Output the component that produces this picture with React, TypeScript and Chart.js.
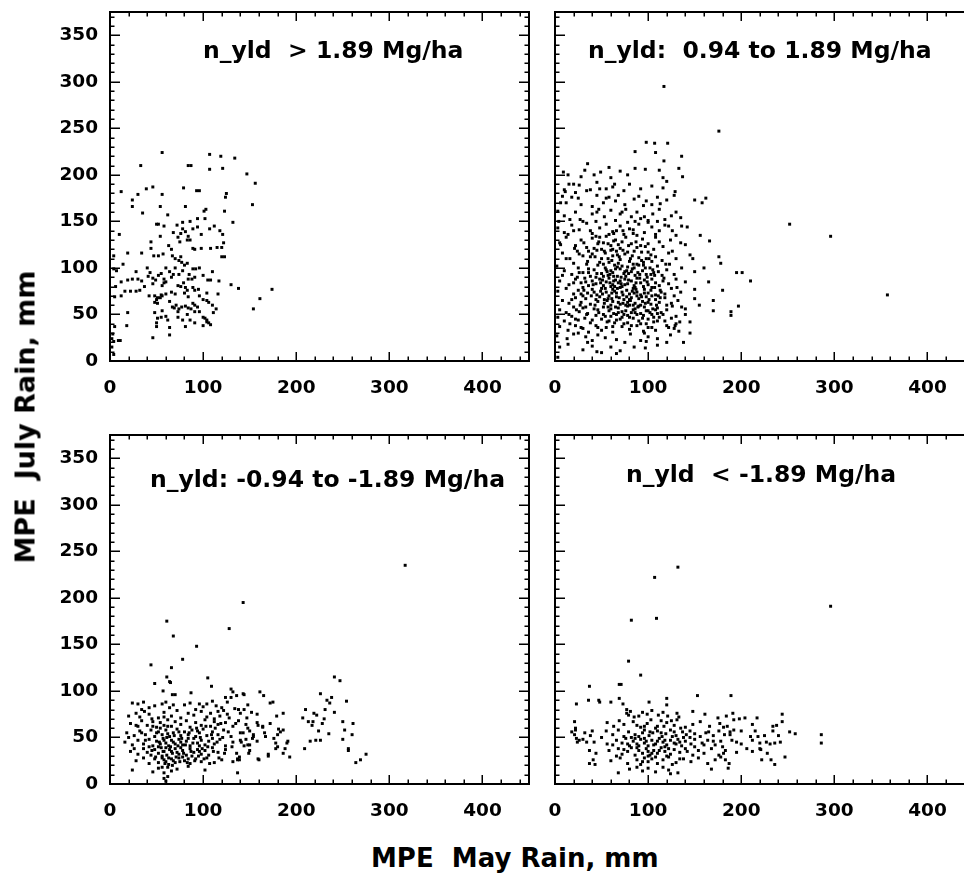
import React, { useEffect, useRef } from 'react';
import { Chart, registerables } from 'chart.js';

Chart.register(...registerables);

const X_TICKS = [0, 100, 200, 300, 400];
const Y_TICKS = [0, 50, 100, 150, 200, 250, 300, 350];
const X_MAX = 450;
const Y_MAX = 375;

const TITLE_TL = 'n_yld  > 1.89 Mg/ha';
const TITLE_TR = 'n_yld:  0.94 to 1.89 Mg/ha';
const TITLE_BL = 'n_yld: -0.94 to -1.89 Mg/ha';
const TITLE_BR = 'n_yld  < -1.89 Mg/ha';
const X_TITLE = 'MPE  May Rain, mm';
const Y_TITLE = 'MPE  July Rain, mm';

// [May rain, July rain]
const TL: number[][] = [
  [56,224],[33,210],[84,210],[87,210],[107,222],[107,206],[119,220],[121,207],[134,218],[147,201],[156,191],[153,168],
  [12,182],[24,173],[30,179],[39,185],[46,187],[56,179],[79,186],[93,183],[96,183],[125,180],[124,176],
  [24,166],[35,159],[54,166],[81,166],[62,157],[103,163],[101,161],[123,161],[132,149],
  [10,136],[50,147],[52,147],[78,149],[94,153],[102,153],[89,142],[94,144],[98,136],[107,142],[118,140],[121,136],
  [78,142],[76,137],[81,139],[84,134],[86,130],[54,134],[44,128],[44,121],[52,113],[47,113],[57,115],
  [63,124],[66,120],[73,133],[75,128],[83,130],[89,121],[91,120],[98,121],[108,121],[115,122],[120,122],[122,127],[120,112],[123,112],
  [67,113],[70,110],[74,108],[76,112],[77,106],[83,105],[80,103],[89,99],[92,99],
  [4,113],[4,99],[7,97],[19,116],[34,116],
  [30,88],[34,86],[41,91],[43,95],[46,89],[52,92],[55,94],[58,88],
  [12,85],[19,87],[24,88],[6,80],[5,69],[12,70],[16,75],[22,75],[28,75],[32,76],
  [37,80],[42,70],[48,70],[51,68],[56,70],[46,83],[49,87],[58,84],[60,85],[66,90],[68,93],[74,93],[56,81],
  [48,63],[51,62],[50,66],[54,68],[55,71],[66,74],[70,72],[73,81],[76,80],[79,84],[81,79],[84,88],[88,88],[91,90],
  [80,73],[83,76],[84,69],[89,79],[91,76],[95,77],
  [67,58],[69,57],[71,60],[74,56],[77,58],[81,59],[84,57],[89,62],[87,56],[91,60],[94,58],
  [105,87],[108,87],[117,86],[104,73],[116,72],[130,82],[138,78],[174,77],[161,67],[154,56],
  [19,52],[18,38],[48,52],[56,54],[51,46],[55,47],[50,41],[50,37],[64,36],[73,53],[73,47],[83,50],[91,53],[86,44],[91,41],[81,37],
  [96,53],[100,47],[102,46],[104,44],[104,42],[106,41],[108,39],[100,38],[111,52],[104,65],[106,63],
  [46,25],[64,28],[2,24],[4,21],[9,22],[11,22],[2,15],[4,7],[3,29],[5,37],
  [60,100],[64,96],[70,100],[78,97],[85,93],[96,100],[100,92],[110,96],[58,145],[68,138],[72,146],[86,150],[112,145],
  [40,100],[28,96],[14,104],[64,64],[60,72],[96,70],[100,66],[110,60],[114,56],[78,44],[60,48],[62,44]
];

const TR: number[][] = [
  [117,295],[176,247],[252,147],[296,134],[357,71],
  [98,235],[107,234],[121,234],[86,225],[108,224],[136,220],[117,215],[35,212],
  [9,203],[14,200],[32,205],[42,200],[49,203],[58,208],[70,204],[78,200],[86,207],[97,206],[112,205],[116,197],[133,207],[137,198],[28,198],[60,197],
  [10,184],[15,190],[26,189],[45,192],[55,185],[62,187],[74,183],[80,190],[92,185],[104,188],[116,186],[120,193],[129,182],[11,182],[22,181],[34,183],[38,184],
  [8,177],[12,170],[18,176],[25,175],[28,168],[45,178],[52,170],[58,176],[65,172],[68,178],[75,168],[85,174],[90,177],[98,172],[110,176],[113,169],[120,173],[128,178],[150,173],[158,170],[162,175],[40,166],[95,167],
  [3,161],[10,156],[22,160],[27,152],[40,158],[47,163],[53,155],[60,162],[65,151],[70,158],[76,163],[82,155],[88,160],[92,153],[105,158],[112,163],[118,152],[125,156],[130,160],[135,154],[16,152],[100,151],
  [3,143],[10,138],[18,146],[26,141],[34,148],[40,137],[48,143],[55,147],[62,139],[70,145],[74,136],[78,149],[84,141],[90,147],[96,138],[104,144],[108,136],[118,146],[126,140],[136,145],[142,144],[14,136],[58,136],[100,149],
  [5,127],[12,133],[22,124],[28,130],[34,122],[40,132],[46,126],[50,120],[55,134],[60,124],[65,130],[70,121],[76,133],[82,126],[88,122],[94,131],[100,126],[108,133],[116,123],[124,130],[135,127],[156,135],[166,129],[44,134],[62,120],[72,128],
  [8,116],[16,110],[24,118],[30,113],[35,107],[40,115],[45,119],[50,110],[54,116],[58,106],[62,113],[66,118],[70,109],[75,115],[80,107],[85,118],[90,111],[95,106],[100,117],[108,112],[115,108],[122,116],[130,110],[145,114],[176,112],[178,105],[38,112],[48,106],[68,105],[88,104],[104,107],[60,119],
  [2,102],[10,97],[18,93],[25,100],[30,95],[34,104],[38,91],[42,98],[46,103],[50,94],[54,100],[57,92],[60,97],[64,103],[67,91],[70,99],[74,94],[78,101],[82,96],[86,92],[90,103],[94,97],[98,93],[102,100],[106,95],[110,102],[115,92],[120,98],[128,93],[136,100],[150,96],[195,95],[201,95],[62,95],[76,91],[84,104],[52,91],
  [5,86],[15,82],[22,88],[28,84],[32,89],[36,81],[40,86],[44,83],[48,88],[52,81],[55,85],[58,89],[62,82],[65,87],[68,84],[72,80],[75,88],[78,83],[82,86],[85,81],[88,89],[92,84],[96,87],[100,82],[104,88],[108,84],[112,81],[116,86],[122,83],[130,88],[140,85],[210,86],[180,76],[70,86],[60,80],
  [3,75],[12,78],[20,72],[25,76],[30,79],[35,73],[40,77],[45,71],[50,78],[55,74],[58,70],[62,77],[66,73],[70,79],[73,71],[77,76],[80,72],[84,78],[88,74],[92,71],[96,77],[100,73],[104,79],[108,71],[113,76],[118,72],[125,78],[135,74],[150,77],[64,75],[86,79],
  [8,65],[15,62],[22,68],[28,63],[33,67],[38,61],[44,66],[48,69],[53,62],[57,67],[62,64],[66,69],[70,61],[74,66],[78,63],[82,68],[86,62],[90,67],[94,64],[98,69],[103,61],[108,66],[112,63],[118,68],[125,62],[132,65],[150,67],[170,65],[60,60],[80,60],
  [5,55],[12,52],[20,58],[26,53],[30,57],[35,51],[42,56],[47,52],[52,58],[58,54],[63,51],[68,57],[72,53],[78,59],[82,52],[86,56],[92,51],[96,58],[100,54],[104,50],[110,57],[114,52],[120,55],[126,59],[140,56],[170,54],[197,59],[189,53],[74,50],[90,59],
  [3,47],[10,43],[18,48],[25,44],[32,46],[38,41],[44,49],[50,45],[56,42],[60,48],[66,44],[72,47],[78,41],[84,46],[90,43],[95,49],[100,45],[106,42],[112,47],[118,43],[125,46],[134,42],[189,49],[145,42],[130,48],[64,41],
  [5,37],[14,33],[22,38],[30,35],[36,31],[44,38],[50,33],[55,36],[62,31],[72,37],[80,34],[88,38],[95,32],[100,36],[108,33],[120,38],[128,35],[133,32],[129,38],[96,30],
  [2,27],[13,24],[20,29],[33,26],[40,22],[46,28],[54,25],[66,23],[81,29],[92,22],[100,26],[110,24],[124,28],[98,21],
  [5,15],[14,18],[30,12],[40,16],[50,9],[66,8],[70,11],[97,14],[110,17],[3,4],
  [42,121],[47,128],[53,118],[57,126],[63,129],[67,114],[73,119],[79,124],[83,113],[87,128],[93,117],[97,123],[103,114],
  [52,104],[56,96],[61,108],[65,99],[69,112],[72,102],[77,97],[81,110],[85,100],[89,95],[93,108],[97,100],[101,110],[105,98],
  [44,90],[49,84],[54,78],[59,93],[63,86],[67,78],[71,90],[75,82],[79,94],[83,75],[87,84],[91,93],[95,80],[99,90],[103,76],[107,92],[111,70],
  [42,74],[46,64],[51,72],[56,65],[61,73],[65,58],[69,68],[73,62],[77,69],[81,65],[85,73],[89,58],[93,69],[97,62],[101,66],[105,56],[109,60],[113,68],
  [46,55],[54,48],[60,56],[66,50],[70,45],[76,54],[80,47],[84,60],[88,50],[94,46],[98,40],[102,52],[106,47],[110,51],
  [36,95],[33,85],[30,70],[27,60],[24,90],[20,105],[38,140],[44,150],[66,140],[86,150],[112,140],
  [21,121],[26,115],[31,127],[36,118],[43,112],[48,133],[52,127],[57,110],[63,137],[68,125],[73,140],[78,117],[84,137],[92,124],[98,110],[106,120],[112,128],[119,104],[126,118],
  [20,84],[26,95],[31,76],[36,99],[41,82],[45,94],[51,87],[55,98],[59,84],[63,91],[67,101],[71,83],[75,96],[79,87],[83,99],[87,77],[91,89],[95,103],[99,85],[103,93],[107,79],[111,96],[117,89],[123,104],[131,79],
  [18,66],[23,55],[28,72],[33,58],[39,70],[43,60],[49,75],[53,66],[57,58],[61,67],[64,80],[68,63],[72,74],[76,60],[80,66],[84,55],[88,70],[92,60],[96,73],[100,63],[104,70],[108,55],[114,74],[120,60],[128,70],[136,58],
  [16,40],[22,45],[28,36],[34,50],[40,44],[46,36],[52,50],[58,43],[62,37],[68,52],[74,40],[78,49],[82,38],[86,52],[92,40],[98,54],[104,36],[110,43],[116,50],[122,36],[130,40],[140,50],
  [20,140],[30,150],[45,160],[55,175],[64,190],[72,160],[80,142],[88,135],[96,155],[104,168],[110,150],[122,145],[130,135],[140,125],[148,110],[160,100],[165,85],[155,60],[145,30],[138,20],[120,20],[85,15],[75,20],[60,15],[45,10],[35,20],[25,30],[15,50],[8,92],[12,110],[6,125],[4,150],[6,170],[20,190],[48,185]
];

const BL: number[][] = [
  [317,235],[143,195],[61,175],[68,159],[128,167],[93,148],[78,134],[44,128],[66,125],[61,115],[65,109],[48,108],[105,114],[109,105],[241,115],[247,111],[57,100],[67,96],[87,98],[64,110],[70,96],[144,96],[130,93],[124,93],
  [207,71],[210,80],[213,67],[217,63],[219,76],[224,57],[226,47],[231,80],[230,70],[233,90],[236,87],[226,97],[238,93],[235,54],[241,77],[250,67],[252,58],[254,89],[250,48],[256,38],[256,36],[260,53],[261,65],[264,23],[269,26],[275,32],[209,38],[215,46],[221,47],[218,67],[222,74],[228,65],
  [147,71],[152,77],[158,75],[159,63],[164,62],[167,51],[172,87],[161,99],[165,95],[179,73],[186,76],[181,59],[183,56],[178,44],[180,40],[188,38],[191,46],[193,29],[170,32],[159,27],[149,33],[137,12],[137,26],[139,26],[150,42],[153,49],[154,53],[141,45],[144,41],[146,48],[148,60],[143,97],[132,99],[136,95],[130,102],
  [24,87],[30,86],[36,88],[48,84],[56,86],[60,88],[64,82],[80,85],[86,87],[96,86],[110,89],[114,84],[126,88],[134,81],[138,80],[148,85],[175,88],[34,80],[42,82],[100,83],[120,82],
  [20,73],[28,76],[32,72],[37,78],[42,75],[52,71],[58,77],[66,73],[72,79],[76,71],[90,74],[98,78],[104,72],[108,76],[118,73],[122,79],[128,71],[140,76],[45,70],[84,76],[112,70],
  [22,65],[30,62],[34,68],[40,63],[46,67],[50,61],[54,66],[58,63],[62,69],[66,62],[70,67],[76,64],[82,68],[86,61],[92,66],[98,63],[102,69],[108,62],[112,67],[116,64],[124,66],[132,62],[138,68],[146,64],[158,66],[164,61],[172,65],
  [18,55],[26,52],[32,57],[38,53],[44,58],[48,51],[52,56],[56,53],[60,58],[64,51],[68,55],[72,59],[76,52],[80,56],[84,53],[88,58],[92,51],[96,55],[100,59],[104,52],[110,56],[116,53],[122,58],[130,51],[140,55],[150,57],[154,51],[166,55],[180,53],[186,58],[62,54],[74,56],[94,57],
  [16,45],[24,42],[30,47],[36,43],[42,48],[46,41],[50,46],[54,43],[57,49],[60,44],[63,41],[66,47],[70,43],[74,48],[78,42],[82,46],[86,41],[90,49],[94,44],[98,47],[102,42],[106,46],[112,43],[118,48],[124,41],[132,45],[140,47],[148,42],[158,46],[176,49],[190,44],[52,40],[68,45],[84,49],[96,41],[110,49],[58,47],[76,45],
  [22,35],[30,32],[36,38],[40,34],[44,31],[48,37],[52,33],[55,39],[58,35],[61,31],[64,37],[67,33],[70,38],[74,32],[78,36],[82,31],[86,38],[90,34],[94,37],[98,32],[102,36],[106,31],[110,39],[116,34],[124,37],[136,33],[150,36],[178,38],[186,33],[56,30],[66,35],[76,39],[88,30],[60,39],[72,34],[96,35],
  [28,25],[36,28],[42,22],[48,27],[52,23],[56,28],[60,24],[63,21],[66,27],[70,23],[74,28],[80,25],[86,22],[92,27],[98,24],[104,28],[112,23],[120,26],[132,24],[137,27],[160,26],[170,30],[58,26],[68,25],[78,29],[84,27],
  [24,15],[46,13],[52,17],[58,12],[62,18],[66,14],[72,16],[84,19],[102,15],[56,18],
  [58,6],[60,3],[62,8],
  [45,36],[49,29],[53,45],[57,35],[59,22],[61,50],[63,28],[65,40],[67,20],[69,52],[71,29],[73,41],[75,24],[77,49],[79,33],[81,42],[83,23],[85,55],[87,35],[89,44],[91,25],[93,60],[95,30],[97,50],[99,38],[101,27],[103,62],[105,40],[107,22],[109,53],[111,35],[113,60],[115,45],[117,28],[119,65],[121,50],[123,33],[127,56],[131,40],[135,65],[139,29],[143,55],
  [62,62],[58,72],[54,60],[50,55],[46,62],[42,40],[38,47],[34,55],[26,38],[28,63],[20,50],[68,85],[92,80],[104,86],[116,78],[126,75],[144,80]
];

const BR: number[][] = [
  [132,233],[107,222],[109,178],[82,176],[296,191],[79,132],[92,117],[69,107],[71,107],[37,105],[153,95],[189,95],[120,92],[101,88],[23,86],[36,90],[47,90],[48,88],[60,88],[69,92],[120,85],[73,86],[77,80],[79,74],
  [286,53],[286,44],[244,75],[238,63],[234,57],[252,56],[258,54],[247,29],[236,21],[227,45],[231,43],[236,44],[242,45],[218,51],[221,37],[228,33],[222,26],[232,26],[217,71],[212,64],[204,71],[198,70],[191,76],[192,69],[188,53],[190,47],[195,45],[195,34],[186,17],[187,22],[183,26],[181,33],[183,36],
  [21,67],[22,60],[21,53],[23,49],[24,45],[26,47],[34,45],[37,36],[37,22],[41,26],[43,21],
  [77,76],[81,78],[90,73],[94,77],[104,79],[111,74],[116,77],[131,76],[133,72],[148,78],[161,75],[175,71],[184,73],[85,72],[99,75],[121,73],
  [56,66],[63,62],[69,68],[74,64],[84,67],[92,61],[99,65],[103,69],[110,62],[120,66],[128,63],[131,69],[148,64],[156,67],[166,62],[177,65],[181,61],[234,62],[244,67],[88,63],[114,68],[140,61],
  [18,56],[22,58],[32,55],[38,52],[55,57],[62,53],[68,58],[74,51],[79,56],[86,53],[96,58],[101,52],[105,55],[110,57],[115,51],[119,54],[124,58],[130,52],[137,56],[141,53],[145,57],[156,51],[162,55],[170,52],[176,57],[182,53],[188,56],[192,58],[210,51],[225,52],[90,51],[128,56],[150,54],
  [42,45],[62,42],[66,47],[72,44],[76,49],[80,41],[84,46],[88,43],[92,48],[96,44],[100,41],[104,47],[108,43],[112,49],[116,45],[120,42],[124,47],[128,44],[132,48],[136,41],[140,46],[146,43],[150,48],[158,44],[164,47],[172,42],[178,46],[200,43],[212,47],[96,49],[110,46],[118,40],[134,45],
  [44,33],[58,36],[68,38],[72,32],[78,35],[82,39],[86,31],[90,36],[94,33],[98,38],[102,31],[106,36],[110,33],[114,39],[118,35],[124,32],[128,37],[134,34],[140,38],[148,31],[154,36],[160,33],[168,38],[176,31],[212,35],[220,38],[88,39],[100,35],[120,30],
  [60,25],[70,28],[78,22],[88,26],[92,21],[96,28],[100,24],[104,27],[110,22],[116,26],[122,29],[130,23],[138,27],[146,24],[154,28],[164,22],[172,26],[178,29],[94,24],[108,29],[126,21],
  [68,12],[80,16],[88,18],[94,14],[100,17],[108,13],[116,18],[122,15],[132,12],[168,16],[124,11],
  [98,46],[102,56],[106,42],[112,36],[114,55],[118,47],[122,38],[126,51],[130,43],[134,27],[138,50],[142,35],[86,49],[90,41],[94,55],[82,50],[78,43],[74,37],[104,33],[108,60],[96,62],[100,30],
  [117,62],[125,68],[135,60],[145,50],[150,40],[160,42],[165,56],[170,46],[180,40],[185,62],[200,57],[206,38],[215,57],[220,44],[240,52],[66,30],[56,43],[50,50],[40,57],[30,48]
];

const FONT = "'DejaVu Sans', sans-serif";

type PanelProps = {
  pts: number[][];
  title: string;
  left: number;
  top: number;
  width: number;
  height: number;
  yWidth: number;
  padTop: number;
  padRight: number;
  xHeight: number;
  showY: boolean;
  tdx: number;
  tdy: number;
};

function Panel(p: PanelProps) {
  const ref = useRef<HTMLCanvasElement>(null);
  useEffect(() => {
    if (!ref.current) return;
    const frame = {
      id: 'frame',
      afterDatasetsDraw(chart: any) {
        const { ctx, chartArea: a, scales } = chart;
        const xs = scales.x;
        const ys = scales.y;
        ctx.save();
        ctx.strokeStyle = '#000';
        ctx.lineWidth = 1.5;
        ctx.beginPath();
        for (let v = 0; v < X_MAX; v += 20) {
          const px = Math.round(xs.getPixelForValue(v)) + 0.25;
          const len = X_TICKS.includes(v) ? 9 : 4.5;
          ctx.moveTo(px, a.bottom);
          ctx.lineTo(px, a.bottom - len);
          ctx.moveTo(px, a.top);
          ctx.lineTo(px, a.top + len);
        }
        for (let v = 0; v < Y_MAX; v += 10) {
          const py = Math.round(ys.getPixelForValue(v)) + 0.25;
          const len = Y_TICKS.includes(v) ? 10 : 4.5;
          ctx.moveTo(a.left, py);
          ctx.lineTo(a.left + len, py);
          ctx.moveTo(a.right, py);
          ctx.lineTo(a.right - len, py);
        }
        ctx.stroke();
        ctx.lineWidth = 2;
        ctx.strokeRect(a.left, a.top, a.right - a.left, a.bottom - a.top);
        ctx.fillStyle = '#000';
        ctx.font = `bold 23.5px ${FONT}`;
        ctx.textAlign = 'left';
        ctx.textBaseline = 'alphabetic';
        ctx.fillText(p.title, a.left + p.tdx, a.top + p.tdy);
        ctx.restore();
      },
    };
    const tickFont = { family: FONT, size: 18.5, weight: 'bold' as const };
    const chart = new Chart(ref.current, {
      type: 'scatter',
      data: {
        datasets: [
          {
            data: p.pts.map(([x, y]) => ({ x, y })),
            backgroundColor: '#000',
            borderColor: '#000',
            pointStyle: 'rect',
            pointRadius: 2.1,
            pointBorderWidth: 0,
          },
        ],
      },
      options: {
        animation: false,
        responsive: false,
        devicePixelRatio: 1,
        events: [],
        layout: { padding: { top: p.padTop, right: p.padRight, left: 0, bottom: 0 } },
        plugins: { legend: { display: false }, tooltip: { enabled: false }, title: { display: false } },
        scales: {
          x: {
            type: 'linear',
            min: 0,
            max: X_MAX,
            afterBuildTicks: (s: any) => {
              s.ticks = X_TICKS.map((v) => ({ value: v }));
            },
            afterFit: (s: any) => {
              s.height = p.xHeight;
            },
            grid: { display: false, drawTicks: true, tickLength: 16 },
            border: { display: false },
            ticks: { padding: 0, font: tickFont, color: '#000', maxRotation: 0, autoSkip: false },
          },
          y: {
            type: 'linear',
            min: 0,
            max: Y_MAX,
            afterBuildTicks: (s: any) => {
              s.ticks = Y_TICKS.map((v) => ({ value: v }));
            },
            afterFit: (s: any) => {
              s.width = p.yWidth;
            },
            grid: { display: false, drawTicks: true, tickLength: 12 },
            border: { display: false },
            ticks: { display: p.showY, padding: 0, font: tickFont, color: '#000', autoSkip: false },
          },
        },
      },
      plugins: [frame],
    });
    return () => chart.destroy();
  }, []);
  return (
    <canvas
      ref={ref}
      width={p.width}
      height={p.height}
      style={{ position: 'absolute', left: p.left, top: p.top, width: p.width, height: p.height }}
    />
  );
}

export default function App() {
  return (
    <div
      style={{
        position: 'absolute',
        left: 0,
        top: 0,
        width: 964,
        height: 876,
        overflow: 'hidden',
        background: '#fff',
      }}
    >
      <Panel pts={TL} title={TITLE_TL} left={40} top={-10} width={500} height={410} yWidth={70} padTop={22} padRight={11} xHeight={39} showY={true} tdx={93} tdy={46} />
      <Panel pts={TR} title={TITLE_TR} left={530} top={-10} width={455} height={410} yWidth={25} padTop={22} padRight={11} xHeight={39} showY={false} tdx={33} tdy={46} />
      <Panel pts={BL} title={TITLE_BL} left={40} top={413} width={500} height={410} yWidth={70} padTop={22} padRight={11} xHeight={39} showY={true} tdx={40} tdy={52} />
      <Panel pts={BR} title={TITLE_BR} left={530} top={413} width={455} height={410} yWidth={25} padTop={22} padRight={11} xHeight={39} showY={false} tdx={71} tdy={47} />
      <div
        style={{
          position: 'absolute',
          left: 25,
          top: 417,
          transform: 'translate(-50%, -50%) rotate(-90deg)',
          font: `bold 27px ${FONT}`,
          lineHeight: 1,
          whiteSpace: 'pre',
          color: '#000',
        }}
      >
        {Y_TITLE}
      </div>
      <div
        style={{
          position: 'absolute',
          left: 371,
          top: 845,
          font: `bold 26px ${FONT}`,
          lineHeight: 1,
          whiteSpace: 'pre',
          color: '#000',
        }}
      >
        {X_TITLE}
      </div>
    </div>
  );
}
